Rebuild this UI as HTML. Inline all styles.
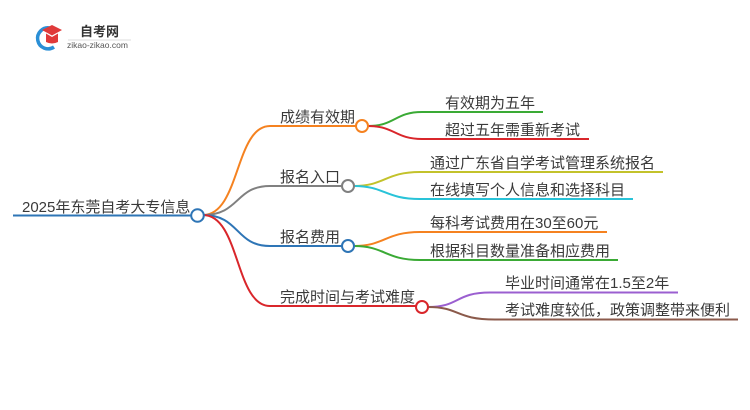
<!DOCTYPE html>
<html><head><meta charset="utf-8"><style>
html,body{margin:0;padding:0;background:#fff;}
svg{display:block;}
text{font-family:"Liberation Sans","Noto Sans CJK SC",sans-serif;fill:#3a3a3a;}
</style></head><body>
<svg width="750" height="410" viewBox="0 0 750 410" xmlns="http://www.w3.org/2000/svg">
<!-- logo -->
<path d="M50 28 A10.5 10.5 0 1 0 54 47" fill="none" stroke="#2a8fd6" stroke-width="3.5"/>
<path d="M42 30 L52 25 L62 30 L52 35.5 Z" fill="#e03a3a"/>
<path d="M46 33.5 L46 42 Q52 45 58 42 L58 33.5 L52 37 Z" fill="#e03a3a"/>
<text x="80" y="36" font-size="13" font-weight="bold" style="fill:#333">自考网</text>
<line x1="68" y1="40" x2="131" y2="40" stroke="#ddd" stroke-width="1"/>
<text x="67" y="48" font-size="8.5" style="fill:#555">zikao-zikao.com</text>

<g fill="none" stroke-width="2">
<!-- root -->
<line x1="13" y1="215.5" x2="191" y2="215.5" stroke="#2e75b6"/>
<!-- branches -->
<path d="M203 215 C240 215 235 126 270 126 L356 126" stroke="#f58220"/>
<path d="M203 215 C240 215 235 186 270 186 L342 186" stroke="#808080"/>
<path d="M203 215 C240 215 235 246 270 246 L342 246" stroke="#2e75b6"/>
<path d="M203 215 C240 215 235 306 270 306 L416 306" stroke="#d9262b"/>
<!-- leaves b1 -->
<path d="M368 126 C395 126 395 112 422 112 L543 112" stroke="#3aaa35"/>
<path d="M368 126 C395 126 395 139 422 139 L589 139" stroke="#d9262b"/>
<!-- leaves b2 -->
<path d="M354 186 C385 186 385 172 420 172 L663 172" stroke="#c3c22b"/>
<path d="M354 186 C385 186 385 199 420 199 L633 199" stroke="#29c3d8"/>
<!-- leaves b3 -->
<path d="M354 246 C385 246 385 232 420 232 L607 232" stroke="#f58220"/>
<path d="M354 246 C385 246 385 260 420 260 L618 260" stroke="#3aaa35"/>
<!-- leaves b4 -->
<path d="M428 307 C460 307 455 292.5 490 292.5 L678 292.5" stroke="#9b5fd0"/>
<path d="M428 307 C460 307 455 319.5 495 319.5 L738 319.5" stroke="#8b5a4b"/>
</g>
<g fill="#fff" stroke-width="2">
<circle cx="197.5" cy="215.5" r="6.3" stroke="#2e75b6"/>
<circle cx="362" cy="126" r="6" stroke="#f58220"/>
<circle cx="348" cy="186" r="6" stroke="#808080"/>
<circle cx="348" cy="246" r="6" stroke="#2e75b6"/>
<circle cx="422" cy="307" r="6" stroke="#d9262b"/>
</g>

<g font-size="15">
<text x="22" y="212">2025年东莞自考大专信息</text>
<text x="280" y="122">成绩有效期</text>
<text x="280" y="182">报名入口</text>
<text x="280" y="242">报名费用</text>
<text x="280" y="302">完成时间与考试难度</text>
<text x="445" y="108">有效期为五年</text>
<text x="445" y="135">超过五年需重新考试</text>
<text x="430" y="168">通过广东省自学考试管理系统报名</text>
<text x="430" y="195">在线填写个人信息和选择科目</text>
<text x="430" y="228">每科考试费用在30至60元</text>
<text x="430" y="256">根据科目数量准备相应费用</text>
<text x="505" y="288">毕业时间通常在1.5至2年</text>
<text x="505" y="315">考试难度较低，政策调整带来便利</text>
</g>
</svg>
</body></html>
